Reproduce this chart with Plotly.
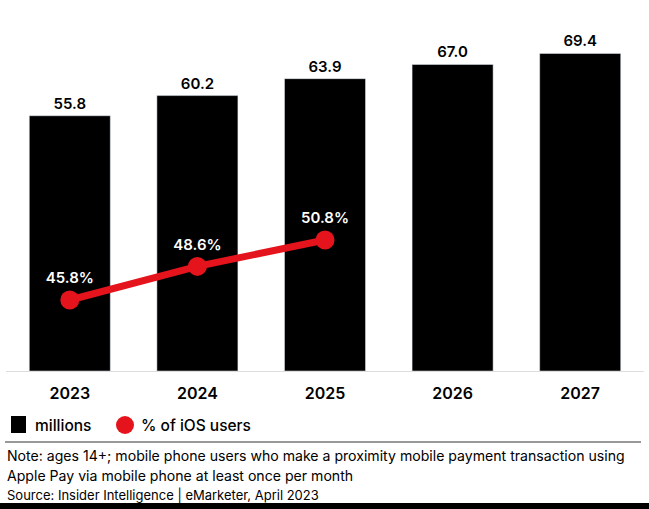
import plotly.graph_objects as go

years = ["2023", "2024", "2025", "2026", "2027"]
millions = [55.8, 60.2, 63.9, 67.0, 69.4]
pct_years = ["2023", "2024", "2025"]
pct_ios = [45.8, 48.6, 50.8]
legend_names = ["millions", "% of iOS users"]

W, H = 649, 509
L, R, T, B = 6, 5, 0, 138
PH = H - T - B

def py(p):
    return (H - B - p) / PH

def px(p):
    return (p - L) / (W - L - R)

RED = "#E5141C"
FONT = "Inter"

fig = go.Figure()
fig.add_trace(go.Bar(
    x=years, y=millions, name=legend_names[0],
    marker=dict(color="#000000"),
    text=[f"{v:.1f}" for v in millions], textposition="outside",
    textfont=dict(family=FONT, size=15, color="#000000", weight=600),
    cliponaxis=False, showlegend=False,
))
fig.add_trace(go.Scatter(
    x=pct_years, y=pct_ios, yaxis="y2", mode="lines+markers+text", name=legend_names[1],
    line=dict(color=RED, width=7), marker=dict(color=RED, size=19),
    text=[f"{v:.1f}%" for v in pct_ios], textposition="top center",
    textfont=dict(family=FONT, size=15, color="#ffffff", weight=600),
    showlegend=False, cliponaxis=False,
))

fig.update_layout(
    width=W, height=H,
    margin=dict(l=L, r=R, t=T, b=B),
    plot_bgcolor="white", paper_bgcolor="white",
    bargap=0.365,
    font=dict(family=FONT, color="#000000"),
    xaxis=dict(showline=True, linecolor="#dddddd", linewidth=1, ticks="",
               tickfont=dict(family=FONT, size=16, color="#000000", weight=600),
               ticklabelstandoff=8),
    yaxis=dict(range=[0, PH / 4.575], visible=False, showgrid=False),
    yaxis2=dict(range=[45.8 - (371 - 300) / 12.0, 45.8 + 300 / 12.0], overlaying="y",
                visible=False, showgrid=False),
    showlegend=False,
)

# custom legend
fig.add_shape(type="rect", xref="paper", yref="paper",
              x0=px(11), x1=px(26), y0=py(433), y1=py(416),
              line=dict(width=0), fillcolor="#000000")
fig.add_shape(type="circle", xref="paper", yref="paper",
              x0=px(116), x1=px(134), y0=py(434), y1=py(416),
              line=dict(width=0), fillcolor=RED)
for name, xx in [(legend_names[0], 33), (legend_names[1], 139)]:
    fig.add_annotation(text=name, xref="paper", yref="paper", x=px(xx), y=py(425.5),
                       xanchor="left", yanchor="middle", showarrow=False,
                       font=dict(family=FONT, size=15.5, color="#000000", weight=500))

fig.add_shape(type="line", xref="paper", yref="paper",
              x0=px(5), x1=px(641), y0=py(442), y1=py(442),
              line=dict(color="#333333", width=1))
fig.add_shape(type="rect", xref="paper", yref="paper",
              x0=px(0), x1=px(649), y0=py(503), y1=py(512),
              line=dict(width=0), fillcolor="#000000")

note1 = "Note: ages 14+; mobile phone users who make a proximity mobile payment transaction using"
note2 = "Apple Pay via mobile phone at least once per month"
source = "Source: Insider Intelligence | eMarketer, April 2023"
for txt, yy, sz in [(note1, 456, 14.1), (note2, 475, 14.1), (source, 495, 13)]:
    fig.add_annotation(text=txt, xref="paper", yref="paper", x=px(5), y=py(yy),
                       xanchor="left", yanchor="middle", showarrow=False,
                       font=dict(family=FONT, size=sz, color="#000000"))

fig.write_html("out.html")
